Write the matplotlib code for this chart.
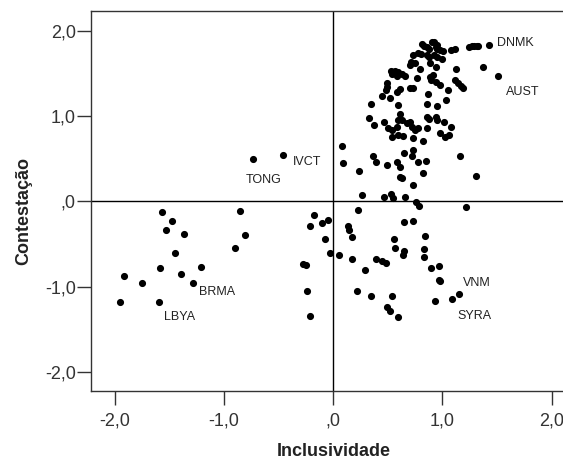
# scatter of inclusividade vs contestacao (polyarchy dimensions)

import matplotlib
matplotlib.use("Agg")
import matplotlib.pyplot as plt

plt.rcParams["font.family"] = ["Liberation Sans", "DejaVu Sans"]

# 1. data
inclusividade = [
    1.426, 1.245, 1.267, 1.288, 1.313, 1.328, 0.815, 0.833, 0.855, 0.876,
    0.901, 0.925, 0.947, 0.938, 0.952, 0.977, 1.007, 1.078, 1.117, 0.727,
    0.773, 0.800, 0.855, 0.876, 0.925, 0.947, 0.998, 0.712, 0.702, 0.748,
    0.885, 0.938, 0.794, 1.124, 0.528, 0.565, 0.595, 0.626, 0.540, 0.581,
    0.657, 1.374, 1.511, 0.764, 0.885, 0.916, 0.895, 0.940, 0.977, 1.117,
    1.139, 1.169, 1.185, 1.053, 0.489, 0.489, 0.483, 0.581, 0.611, 0.702,
    0.733, 0.443, 0.519, 0.864, 0.342, 0.595, 0.861, 0.952, 1.032, 0.330,
    0.375, 0.467, 0.504, 0.535, 0.581, 0.595, 0.611, 0.626, 0.672, 0.702,
    0.718, 0.748, 0.773, 0.855, 0.879, 0.938, 0.947, 1.017, 1.078, 0.855,
    0.977, 1.023, 1.062, 0.540, 0.595, 0.641, 0.733, 0.824, 0.077, 0.092,
    0.238, 0.366, 0.388, 0.489, 0.581, 0.611, 0.650, 0.727, 0.724, 0.778,
    0.852, 1.160, 1.304, 0.824, 0.611, 0.626, 0.733,
    0.260, 0.467, 0.526, 0.544, 0.657, 0.757, 0.785, 1.212, 0.229, -0.046,
    -0.106, 0.137, 0.147, 0.168, -0.076, 0.647, 0.727, 0.556, 0.840, 0.565,
    0.647, 0.636, 0.833, 0.833, -0.030, 0.055, 0.168, 0.391, 0.443, 0.483,
    0.290, 0.892, 0.971, 0.968, 0.977, 0.220, 0.342, 0.535, 0.489, 0.519,
    0.590, 0.931, 1.084, 1.154,
    -1.566, -1.480, -1.532, -1.370, -1.450, -1.590, -1.395, -1.212, -1.282,
    -1.752, -1.914, -1.953, -1.596, -0.852, -0.809, -0.899, -0.174, -0.211,
    -0.280, -0.250, -0.241, -0.213,
    -0.733, -0.461,
]
contestacao = [
    1.836, 1.816, 1.824, 1.824, 1.824, 1.830, 1.844, 1.824, 1.809, 1.785,
    1.873, 1.873, 1.839, 1.809, 1.785, 1.777, 1.769, 1.777, 1.792, 1.718,
    1.738, 1.727, 1.718, 1.699, 1.718, 1.699, 1.668, 1.640, 1.601, 1.627,
    1.627, 1.581, 1.551, 1.554, 1.531, 1.531, 1.523, 1.492, 1.492, 1.472,
    1.472, 1.581, 1.472, 1.445, 1.464, 1.484, 1.425, 1.405, 1.367, 1.425,
    1.394, 1.355, 1.327, 1.308, 1.394, 1.347, 1.308, 1.289, 1.316, 1.335,
    1.335, 1.238, 1.211, 1.257, 1.140, 1.132, 1.140, 1.120, 1.187, 0.976,
    0.897, 0.936, 0.859, 0.839, 0.877, 0.956, 1.026, 0.956, 0.917, 0.936,
    0.877, 0.839, 0.859, 0.995, 0.964, 0.988, 0.956, 0.936, 0.870, 0.859,
    0.807, 0.760, 0.780, 0.760, 0.780, 0.768, 0.741, 0.710, 0.651, 0.448,
    0.358, 0.537, 0.467, 0.428, 0.467, 0.408, 0.573, 0.604, 0.537, 0.460,
    0.479, 0.537, 0.303, 0.338, 0.291, 0.272, 0.194,
    0.080, 0.056, 0.088, 0.041, 0.056, -0.009, -0.053, -0.068, -0.100, -0.217,
    -0.256, -0.287, -0.334, -0.420, -0.444, -0.240, -0.225, -0.436, -0.405,
    -0.542, -0.577, -0.631, -0.557, -0.647, -0.608, -0.631, -0.678, -0.671,
    -0.694, -0.718, -0.804, -0.780, -0.757, -0.921, -0.933, -1.050, -1.108,
    -1.108, -1.241, -1.281, -1.358, -1.167, -1.144, -1.088,
    -0.120, -0.229, -0.331, -0.385, -0.604, -0.784, -0.847, -0.768, -0.956,
    -0.956, -0.874, -1.175, -1.175, -0.111, -0.393, -0.542, -0.158, -0.291,
    -0.733, -0.748, -1.053, -1.340,
    0.499, 0.545,
]

# country labels and where they sit
country_codes = ["DNMK", "AUST", "IVCT", "TONG", "BRMA", "LBYA", "VNM", "SYRA"]
code_x = [1.496, 1.582, -0.372, -0.802, -1.227, -1.548, 1.190, 1.139]
code_y = [1.856, 1.288, 0.467, 0.252, -1.065, -1.355, -0.952, -1.339]

tick_values = [-2, -1, 0, 1, 2]
tick_labels = ["-2,0", "-1,0", ",0", "1,0", "2,0"]

# 2. figure, axes run past the right edge like the original crop
fig = plt.figure(figsize=(5.63, 4.62), dpi=100)
ax = fig.add_axes([0.1616, 0.1543, 0.8609, 0.8219])

ax.scatter(inclusividade, contestacao, s=17, color="black", zorder=3)
ax.axhline(0, color="black", lw=1, zorder=2)
ax.axvline(0, color="black", lw=1, zorder=2)

for code, cx, cy in zip(country_codes, code_x, code_y):
    ax.text(cx, cy, code, fontsize=9, color="#222222", va="center", ha="left")

ax.set_xlim(-2.22, 2.22)
ax.set_ylim(-2.22, 2.235)

ax.set_xticks(tick_values)
ax.set_xticklabels(tick_labels)
ax.set_yticks(tick_values)
ax.set_yticklabels(tick_labels)
ax.tick_params(axis="both", length=10, width=1, labelsize=13,
               colors="#333333", labelcolor="#333333")
ax.tick_params(axis="x", pad=6)
ax.tick_params(axis="y", pad=1)

for spine in ax.spines.values():
    spine.set_color("#333333")
    spine.set_linewidth(1)

# 3. axis titles, placed by hand to match the original spacing
ax.set_xlabel("Inclusividade", fontsize=13, fontweight="bold", color="#222222")
ax.set_ylabel("Contestação", fontsize=13, fontweight="bold", color="#222222")
ax.xaxis.set_label_coords(0.5, -0.138)
ax.yaxis.set_label_coords(-0.122, 0.473)

fig.savefig("out.png", dpi=100)
